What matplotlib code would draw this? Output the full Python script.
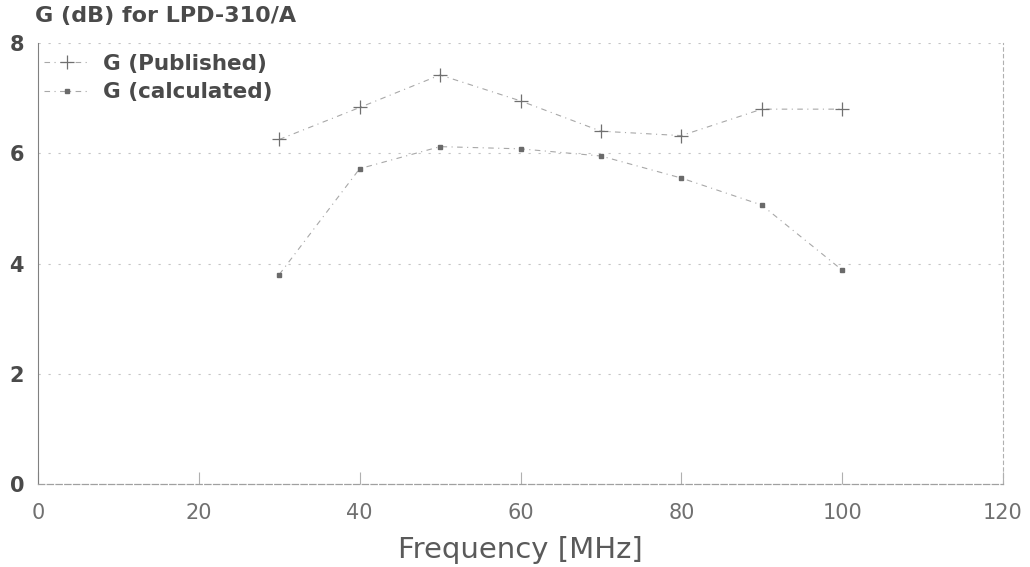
import matplotlib
matplotlib.use("Agg")
import matplotlib.pyplot as plt

# ---- data ----
freq = [30, 40, 50, 60, 70, 80, 90, 100]
g_published = [6.25, 6.83, 7.42, 6.95, 6.40, 6.32, 6.80, 6.80]
g_calculated = [3.80, 5.72, 6.12, 6.08, 5.95, 5.55, 5.06, 3.88]
x_ticks = [0, 20, 40, 60, 80, 100, 120]
y_ticks = [0, 2, 4, 6, 8]
title = "G (dB) for LPD-310/A"
xlabel = "Frequency [MHz]"
labels = ["G (Published)", "G (calculated)"]

plt.rcParams['font.family'] = ['DejaVu Sans']

fig = plt.figure(figsize=(10.30, 5.67), dpi=100)
ax = fig.add_axes([38/1030, 1-484/567, (1003-38)/1030, (484-43)/567])

line_c = "#a8a8a8"
ax.plot(freq, g_published, linestyle=(0, (5, 4, 1, 4)), color=line_c, lw=0.8,
        marker='+', markersize=10, markeredgewidth=0.9, markeredgecolor="#707070",
        label=labels[0])
ax.plot(freq, g_calculated, linestyle=(0, (5, 4, 1, 4)), color=line_c, lw=0.8,
        marker='s', markersize=2.8, markerfacecolor="#6a6a6a", markeredgecolor="#6a6a6a",
        label=labels[1])

ax.set_xlim(0, 120)
ax.set_ylim(0, 8)
ax.set_xticks(x_ticks)
ax.set_yticks(y_ticks)

# grid: faint dotted horizontals
for yv in y_ticks[1:]:
    ax.axhline(yv, color="#c4c4c4", lw=0.8, linestyle=(0, (2, 7)), zorder=0)

ax.spines['top'].set_visible(False)
ax.spines['left'].set_color("#808080")
ax.spines['left'].set_linewidth(0.8)
ax.spines['bottom'].set_color("#a0a0a0")
ax.spines['bottom'].set_linewidth(0.9)
ax.spines['bottom'].set_linestyle((0, (5, 2)))
ax.spines['right'].set_color("#b0b0b0")
ax.spines['right'].set_linewidth(0.8)
ax.spines['right'].set_linestyle((0, (3, 3)))

ax.tick_params(axis='x', direction='in', length=9, width=0.8, color="#b0b0b0",
               labelsize=15, labelcolor="#707070", pad=14)
ax.tick_params(axis='y', length=0, labelsize=15, labelcolor="#4a4a4a", pad=10)
for t in ax.get_yticklabels():
    t.set_fontweight('bold')

ax.set_xlabel(xlabel, fontsize=21, color="#5a5a5a")
ax.xaxis.set_label_coords(0.5, -0.118)

fig.text(35/1030, 1-16/567, title, fontsize=16, fontweight='bold',
         color="#4a4a4a", ha='left', va='center')

leg = ax.legend(loc='upper left', bbox_to_anchor=(0.0, 0.99), frameon=False,
                handlelength=2.1, handletextpad=0.6, labelspacing=0.4,
                borderaxespad=0.1, borderpad=0.2,
                prop={'size': 15.5, 'weight': 'bold'})
for t in leg.get_texts():
    t.set_color("#4a4a4a")

fig.savefig("out.png", dpi=100, facecolor="white")
